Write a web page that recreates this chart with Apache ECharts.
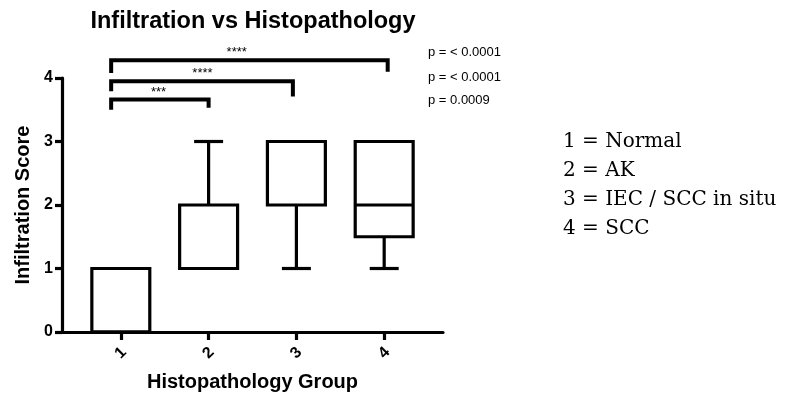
<!DOCTYPE html>
<html>
<head>
<meta charset="utf-8">
<script src="https://cdn.jsdelivr.net/npm/echarts@6/dist/echarts.min.js"></script>
<style>
html,body{margin:0;padding:0;background:#fff;}
#chart{width:788px;height:396px;}
</style>
</head>
<body>
<div id="chart"></div>
<script>
// ---- data ----
const categories = ['1', '2', '3', '4'];
const groupPos = [1, 2, 3, 4];
const boxMin = [0, 1, 1, 1];
const boxQ1 = [0, 1, 2, 1.5];
const boxMedian = [0, 1, 3, 2];
const boxQ3 = [1, 2, 3, 3];
const boxMax = [1, 3, 3, 3];

const bracketFrom = [0.89, 0.89, 0.89];
const bracketTo = [4.04, 2.96, 2.0];
const bracketLevel = [4.28, 3.95, 3.66];
const bracketLeftDrop = [4.08, 3.79, 3.50];
const bracketRightDrop = [4.10, 3.71, 3.53];
const bracketStars = ['****', '****', '***'];
const starX = [2.32, 1.93, 1.43];

const pValues = ['p = < 0.0001', 'p = < 0.0001', 'p = 0.0009'];
const legendLines = ['1 = Normal', '2 = AK', '3 = IEC / SCC in situ', '4 = SCC'];
const yTicks = [0, 1, 2, 3, 4];

// ---- build ----
const boxData = groupPos.map((x, i) => [x, boxMin[i], boxQ1[i], boxMedian[i], boxQ3[i], boxMax[i]]);
const bracketData = bracketFrom.map((x1, i) => [x1, bracketTo[i], bracketLevel[i], bracketLeftDrop[i], bracketRightDrop[i], starX[i], i]);

const BOX_W = 0.66;
const LW = 3.2;
const FONT = 'Liberation Sans, Arial, sans-serif';

function renderBox(params, api) {
  const x = api.value(0);
  const mn = api.value(1), q1 = api.value(2), md = api.value(3), q3 = api.value(4), mx = api.value(5);
  const cx = api.coord([x, 0])[0];
  const w = api.size([BOX_W, 0])[0];
  const py = v => api.coord([x, v])[1];
  const st = {stroke: '#000', lineWidth: LW, fill: null};
  const children = [];
  children.push({type: 'rect', shape: {x: cx - w / 2, y: py(q3), width: w, height: py(q1) - py(q3)}, style: {stroke: '#000', lineWidth: LW, fill: 'none'}});
  children.push({type: 'line', shape: {x1: cx - w / 2, y1: py(md), x2: cx + w / 2, y2: py(md)}, style: st});
  if (mx > q3) {
    children.push({type: 'line', shape: {x1: cx, y1: py(q3), x2: cx, y2: py(mx)}, style: st});
    children.push({type: 'line', shape: {x1: cx - w / 4, y1: py(mx), x2: cx + w / 4, y2: py(mx)}, style: st});
  }
  if (mn < q1) {
    children.push({type: 'line', shape: {x1: cx, y1: py(q1), x2: cx, y2: py(mn)}, style: st});
    children.push({type: 'line', shape: {x1: cx - w / 4, y1: py(mn), x2: cx + w / 4, y2: py(mn)}, style: st});
  }
  return {type: 'group', children};
}

function renderBracket(params, api) {
  const x1 = api.value(0), x2 = api.value(1), lv = api.value(2), ld = api.value(3), rd = api.value(4), sx = api.value(5);
  const idx = api.value(6);
  const a = api.coord([x1, ld]);
  const b = api.coord([x1, lv]);
  const c = api.coord([x2, lv]);
  const d = api.coord([x2, rd]);
  const s = api.coord([sx, lv]);
  return {
    type: 'group',
    children: [
      {type: 'polyline', shape: {points: [a, b, c, d]}, style: {stroke: '#000', lineWidth: 4, fill: 'none', lineJoin: 'miter'}},
      {type: 'text', x: s[0], y: s[1] - 1, style: {text: bracketStars[idx], fill: '#000', font: '13px ' + FONT, textAlign: 'center', textVerticalAlign: 'bottom'}}
    ]
  };
}

const chart = echarts.init(document.getElementById('chart'), null, {renderer: 'canvas'});
chart.setOption({
  animation: false,
  backgroundColor: '#fff',
  grid: {left: 62, right: 345, top: 78, bottom: 64, containLabel: false, outerBoundsMode: 'none'},
  xAxis: {
    type: 'value',
    min: 0.33,
    max: 4.67,
    name: 'Histopathology Group',
    nameLocation: 'middle',
    nameGap: 40,
    nameTextStyle: {color: '#000', fontFamily: FONT, fontWeight: 'bold', fontSize: 20},
    axisLine: {show: true, lineStyle: {color: '#000', width: LW}},
    axisTick: {show: true, length: 8, lineStyle: {color: '#000', width: LW}, customValues: groupPos},
    axisLabel: {
      customValues: groupPos,
      rotate: 45,
      align: 'center',
      verticalAlign: 'middle',
      margin: 21,
      color: '#000',
      fontFamily: FONT,
      fontWeight: 'bold',
      fontSize: 16,
      formatter: v => categories[Math.round(v) - 1] || ''
    },
    splitLine: {show: false}
  },
  yAxis: {
    type: 'value',
    min: 0,
    max: 4,
    interval: 1,
    name: 'Infiltration Score',
    nameLocation: 'middle',
    nameRotate: 90,
    nameGap: 29,
    nameTextStyle: {color: '#000', fontFamily: FONT, fontWeight: 'bold', fontSize: 20},
    axisLine: {show: true, lineStyle: {color: '#000', width: LW}},
    axisTick: {show: true, length: 7, lineStyle: {color: '#000', width: LW}},
    axisLabel: {color: '#000', fontFamily: FONT, fontWeight: 'bold', fontSize: 16, margin: 9,
      formatter: v => yTicks.indexOf(v) >= 0 ? String(v) : ''},
    splitLine: {show: false}
  },
  series: [
    {type: 'custom', name: 'box', renderItem: renderBox, data: boxData, clip: false, encode: {x: 0, y: [1, 5]}},
    {type: 'custom', name: 'brackets', renderItem: renderBracket, data: bracketData, clip: false, encode: {x: [0, 1], y: 2}}
  ],
  graphic: [
    {type: 'text', x: 253, y: 22, style: {text: 'Infiltration vs Histopathology', fill: '#000', font: 'bold 23.5px ' + FONT, textAlign: 'center', textVerticalAlign: 'middle'}},
    {type: 'text', x: 428, y: 52, style: {text: pValues[0], fill: '#000', font: '13px ' + FONT, textVerticalAlign: 'middle'}},
    {type: 'text', x: 428, y: 77, style: {text: pValues[1], fill: '#000', font: '13px ' + FONT, textVerticalAlign: 'middle'}},
    {type: 'text', x: 428, y: 100, style: {text: pValues[2], fill: '#000', font: '13px ' + FONT, textVerticalAlign: 'middle'}},
    {type: 'text', x: 563, y: 127, style: {text: legendLines.join('\n'), fill: '#000', font: '20px DejaVu Serif, serif', lineHeight: 29, textVerticalAlign: 'top'}}
  ]
});
</script>
</body>
</html>
